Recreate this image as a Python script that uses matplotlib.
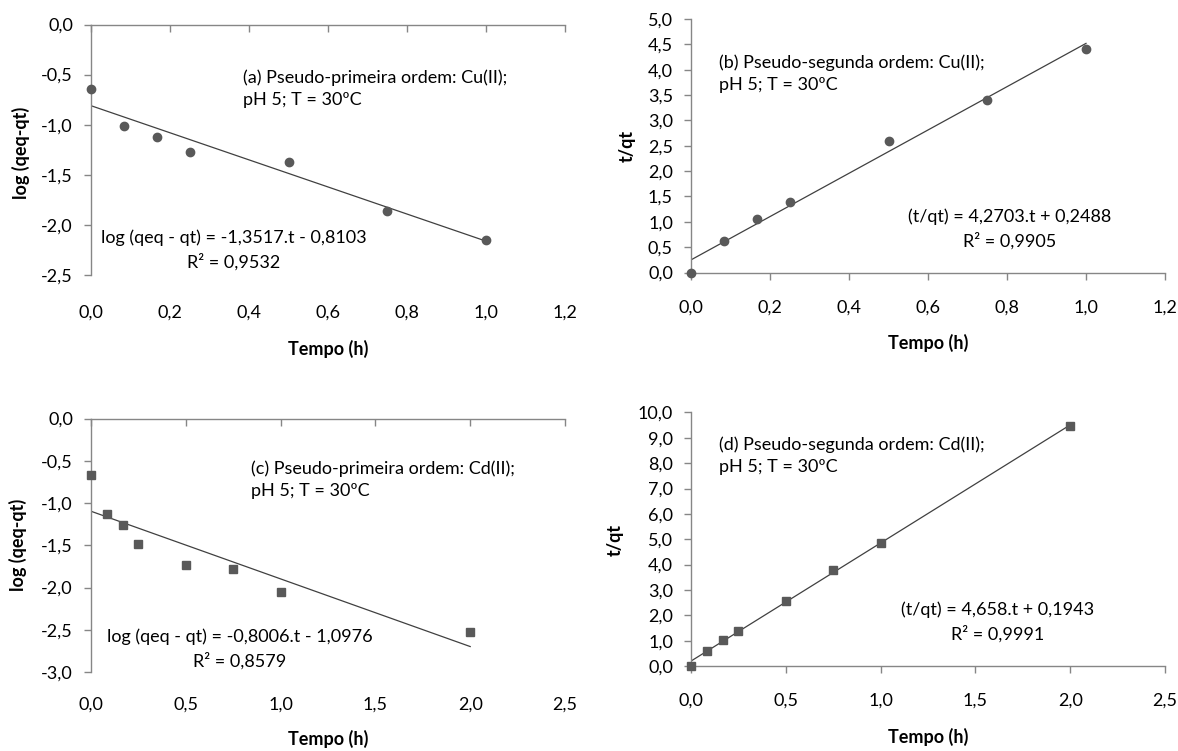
import numpy as np
import matplotlib
matplotlib.use("Agg")
import matplotlib.pyplot as plt
from matplotlib.ticker import FuncFormatter, MultipleLocator

plt.rcParams['font.family'] = ['Lato', 'DejaVu Sans']

# ---- data ----
t_cu = [0.0, 1/12, 1/6, 0.25, 0.5, 0.75, 1.0]
log_cu = [-0.64, -1.01, -1.12, -1.27, -1.37, -1.86, -2.15]
tq_cu = [0.0, 0.62, 1.06, 1.40, 2.60, 3.41, 4.40]

t_cd = [0.0, 1/12, 1/6, 0.25, 0.5, 0.75, 1.0, 2.0]
log_cd = [-0.67, -1.13, -1.26, -1.48, -1.73, -1.78, -2.05, -2.53]
tq_cd = [0.0, 0.59, 1.04, 1.38, 2.55, 3.77, 4.86, 9.46]

# trendline coefficients (slope, intercept) as printed on the chart
fit_a = (-1.3517, -0.8103)
fit_b = (4.2703, 0.2488)
fit_c = (-0.8006, -1.0976)
fit_d = (4.658, 0.1943)

title_a = "(a) Pseudo-primeira ordem: Cu(II);\npH 5; T = 30ºC"
title_b = "(b) Pseudo-segunda ordem: Cu(II);\npH 5; T = 30ºC"
title_c = "(c) Pseudo-primeira ordem: Cd(II);\npH 5; T = 30ºC"
title_d = "(d) Pseudo-segunda ordem: Cd(II);\npH 5; T = 30ºC"
eq_a = "log (qeq - qt) = -1,3517.t - 0,8103\nR² = 0,9532"
eq_b = "(t/qt) = 4,2703.t + 0,2488\nR² = 0,9905"
eq_c = "log (qeq - qt) = -0,8006.t - 1,0976\nR² = 0,8579"
eq_d = "(t/qt) = 4,658.t + 0,1943\nR² = 0,9991"
xlab = "Tempo (h)"
ylab_first = "log (qeq-qt)"
ylab_second = "t/qt"

W, H = 1178, 751
fig = plt.figure(figsize=(W/100, H/100), dpi=100)

AX_COL = '#868686'
MK_COL = '#595959'
LN_COL = '#404040'
FS = 13

def comma(v, pos):
    return f"{v:.1f}".replace('.', ',')

def make_ax(left, top, right, bottom):
    return fig.add_axes([left/W, 1-bottom/H, (right-left)/W, (bottom-top)/H])

def style(ax, xlim, ylim, xstep, ystep, axis_top, xpad):
    ax.set_xlim(*xlim)
    ax.set_ylim(*ylim)
    ax.xaxis.set_major_locator(MultipleLocator(xstep))
    ax.yaxis.set_major_locator(MultipleLocator(ystep))
    ax.xaxis.set_major_formatter(FuncFormatter(comma))
    ax.yaxis.set_major_formatter(FuncFormatter(comma))
    ax.spines['right'].set_visible(False)
    for s in ['left', 'top', 'bottom']:
        ax.spines[s].set_color(AX_COL)
        ax.spines[s].set_linewidth(1.0)
    ax.tick_params(axis='y', direction='out', length=5, width=1, color=AX_COL,
                   labelsize=FS, pad=8)
    if axis_top:
        ax.spines['bottom'].set_visible(False)
        ax.tick_params(axis='x', bottom=False, top=True, direction='in',
                       labelbottom=True, labeltop=False, length=5, width=1,
                       color=AX_COL, labelsize=FS, pad=xpad)
    else:
        ax.spines['top'].set_visible(False)
        ax.tick_params(axis='x', bottom=True, top=False, direction='out',
                       length=5, width=1, color=AX_COL, labelsize=FS, pad=xpad)

def fig_text(x, y, s, ha='left', **kw):
    fig.text(x/W, 1-y/H, s, ha=ha, va='center', fontsize=FS,
             linespacing=1.45, multialignment=ha, **kw)

def trend(ax, x, fit):
    xs = np.array([min(x), max(x)])
    ax.plot(xs, fit[0]*xs + fit[1], color=LN_COL, lw=0.9, zorder=2)

# Panel a
ax = make_ax(91, 24.5, 565, 275)
style(ax, (0, 1.2), (-2.5, 0), 0.2, 0.5, True, 21)
trend(ax, t_cu, fit_a)
ax.plot(t_cu, log_cu, 'o', color=MK_COL, ms=6, clip_on=False, zorder=3)
fig_text(21, 153, ylab_first, ha='center', rotation=90, fontweight='bold')
fig_text(328, 349, xlab, ha='center', fontweight='bold')
fig_text(243, 89, title_a)
fig_text(234, 250, eq_a, ha='center')

# Panel b
ax = make_ax(691, 19, 1165, 272.5)
style(ax, (0, 1.2), (0, 5), 0.2, 0.5, False, 14.4)
trend(ax, t_cu, fit_b)
ax.plot(t_cu, tq_cu, 'o', color=MK_COL, ms=6, clip_on=False, zorder=3)
fig_text(627, 146, ylab_second, ha='center', rotation=90, fontweight='bold')
fig_text(928, 343, xlab, ha='center', fontweight='bold')
fig_text(719, 74, title_b)
fig_text(1010, 229, eq_b, ha='center')

# Panel c
ax = make_ax(91, 418.5, 565, 672)
style(ax, (0, 2.5), (-3, 0), 0.5, 0.5, True, 18)
trend(ax, t_cd, fit_c)
ax.plot(t_cd, log_cd, 's', color=MK_COL, ms=6, clip_on=False, zorder=3)
fig_text(18, 545, ylab_first, ha='center', rotation=90, fontweight='bold')
fig_text(328, 739, xlab, ha='center', fontweight='bold')
fig_text(251, 480, title_c)
fig_text(240, 649, eq_c, ha='center')

# Panel d
ax = make_ax(691, 412.5, 1165, 666)
style(ax, (0, 2.5), (0, 10), 0.5, 1.0, False, 14.4)
trend(ax, t_cd, fit_d)
ax.plot(t_cd, tq_cd, 's', color=MK_COL, ms=6, clip_on=False, zorder=3)
fig_text(615, 540, ylab_second, ha='center', rotation=90, fontweight='bold')
fig_text(928, 737, xlab, ha='center', fontweight='bold')
fig_text(719, 456, title_d)
fig_text(998, 622, eq_d, ha='center')

fig.savefig("out.png", dpi=100, facecolor='white')
